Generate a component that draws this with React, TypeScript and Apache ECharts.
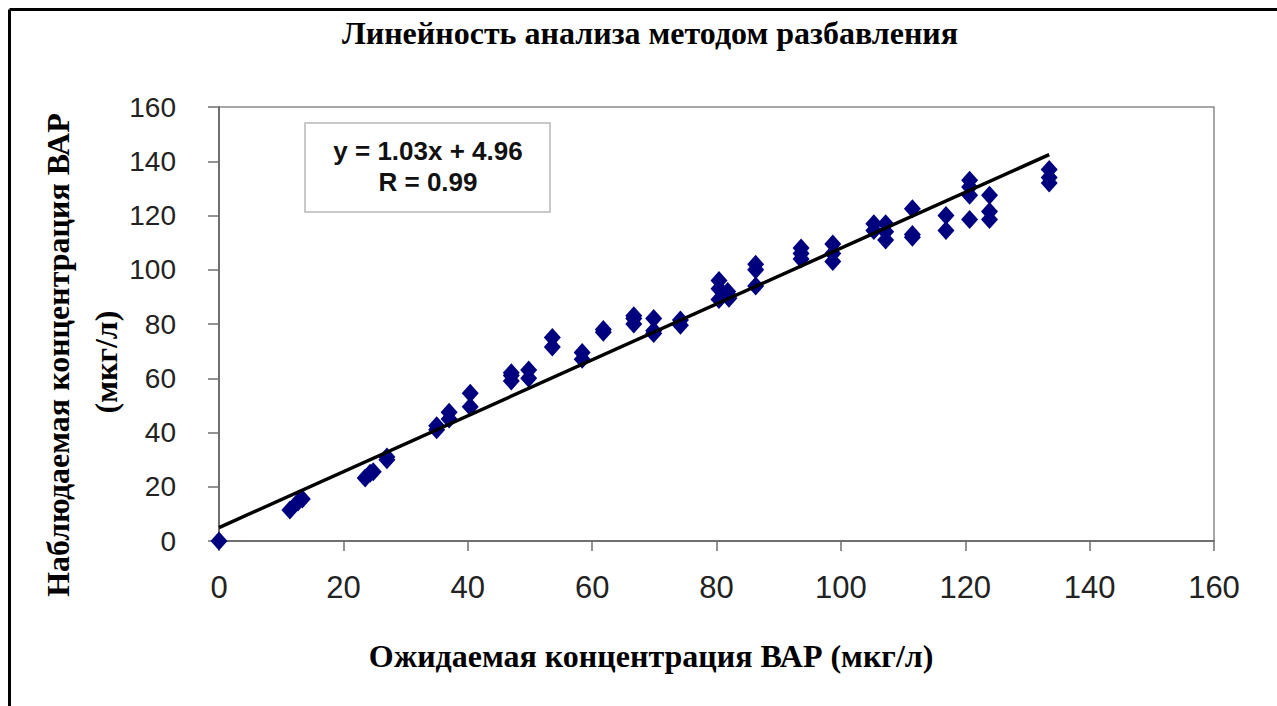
import React, { useEffect, useRef } from "react";
import * as echarts from "echarts";

// Expected (x) and observed (y) concentrations, µg/L
const expectedX = [
  0,
  11.4, 12.7, 13.4,
  23.5, 24.3, 24.8,
  27, 27,
  35, 35, 37, 37,
  40.4, 40.4,
  47, 47, 47,
  49.8, 49.8,
  53.6, 53.6,
  58.4, 58.4,
  61.8, 61.8,
  66.7, 66.7, 66.7,
  69.9, 69.9, 69.9,
  74.2, 74.2,
  80.4, 80.4, 80.4, 81.8, 82, 82,
  86.3, 86.3, 86.3,
  93.6, 93.6, 93.6,
  98.7, 98.7, 98.7,
  105.3, 105.3, 107.2, 107.2, 107.2,
  111.5, 111.5, 111.5,
  116.9, 116.9,
  120.7, 120.7, 120.7, 120.7,
  123.9, 123.9, 123.9,
  133.5, 133.5, 133.5,
];
const observedY = [
  0,
  11.4, 14.4, 15.5,
  23.2, 25, 25.5,
  30, 31,
  41, 42.5, 45, 47.5,
  49.5, 54.5,
  59, 61, 62,
  60, 63,
  71.5, 75,
  67, 69.5,
  77, 78,
  80, 82, 83,
  82, 76.5, 77.5,
  79.5, 81.5,
  96, 93, 89, 92, 90.5, 89.5,
  102, 100, 94,
  108, 106, 104,
  109.5, 106, 103,
  117, 114.5, 117, 114, 111,
  122.5, 113, 112,
  120, 114.5,
  133, 130.5, 127.5, 118.5,
  127.5, 121.5, 118.5,
  137, 134, 132,
];
// Trend line end points (y = 1.03x + 4.96)
const trendX = [0, 133.5];
const trendY = [4.96, 142.47];

const titleText = "Линейность анализа методом разбавления";
const xTitle = "Ожидаемая концентрация ВАР (мкг/л)";
const yTitle1 = "Наблюдаемая концентрация ВАР";
const yTitle2 = "(мкг/л)";
const eqLine1 = "y = 1.03x + 4.96";
const eqLine2 = "R = 0.99";

export default function App() {
  const ref = useRef<HTMLDivElement>(null);
  useEffect(() => {
    const chart = echarts.init(ref.current!, null, { renderer: "svg" });
    const serif = "'Liberation Serif', 'Times New Roman', serif";
    const sans = "'Liberation Sans', Arial, sans-serif";
    chart.setOption({
      animation: false,
      backgroundColor: "#ffffff",
      grid: {
        left: 219,
        top: 107,
        right: 63,
        bottom: 165,
        show: true,
        borderColor: "#8a8a8a",
        borderWidth: 1.5,
        backgroundColor: "#ffffff",
      },
      xAxis: {
        type: "value",
        min: 0,
        max: 160,
        interval: 20,
        splitLine: { show: false },
        axisLine: { show: true, onZero: false, lineStyle: { color: "#6f6f6f", width: 2 } },
        axisTick: { show: true, inside: false, length: 10, lineStyle: { color: "#6f6f6f", width: 1.5 } },
        axisLabel: { fontSize: 31, color: "#222", fontFamily: sans, margin: 31 },
      },
      yAxis: {
        type: "value",
        min: 0,
        max: 160,
        interval: 20,
        splitLine: { show: false },
        axisLine: { show: true, onZero: false, lineStyle: { color: "#6f6f6f", width: 2 } },
        axisTick: { show: true, inside: false, length: 11, lineStyle: { color: "#6f6f6f", width: 1.5 } },
        axisLabel: { fontSize: 28, color: "#222", fontFamily: sans, margin: 43 },
      },
      series: [
        {
          type: "scatter",
          symbol: "diamond",
          symbolSize: [17, 19],
          itemStyle: { color: "#00007f", opacity: 1 },
          data: expectedX.map((x, i) => [x, observedY[i]]),
          z: 2,
        },
        {
          type: "line",
          symbol: "none",
          lineStyle: { color: "#000000", width: 3.5 },
          data: trendX.map((x, i) => [x, trendY[i]]),
          z: 3,
        },
      ],
      graphic: [
        { type: "line", shape: { x1: 9.5, y1: 9.5, x2: 1400, y2: 9.5 }, style: { stroke: "#000", lineWidth: 3 } },
        { type: "line", shape: { x1: 9.5, y1: 9.5, x2: 9.5, y2: 800 }, style: { stroke: "#000", lineWidth: 3 } },
        {
          type: "text",
          x: 650,
          y: 33,
          style: { text: titleText, font: `bold 32px ${serif}`, fill: "#000", textAlign: "center", textVerticalAlign: "middle" },
        },
        {
          type: "text",
          x: 651,
          y: 656,
          style: { text: xTitle, font: `bold 32px ${serif}`, fill: "#000", textAlign: "center", textVerticalAlign: "middle" },
        },
        {
          type: "text",
          x: 58,
          y: 355,
          rotation: Math.PI / 2,
          style: { text: yTitle1, font: `bold 32px ${serif}`, fill: "#000", textAlign: "center", textVerticalAlign: "middle" },
        },
        {
          type: "text",
          x: 106,
          y: 362,
          rotation: Math.PI / 2,
          style: { text: yTitle2, font: `bold 32px ${serif}`, fill: "#000", textAlign: "center", textVerticalAlign: "middle" },
        },
        {
          type: "rect",
          shape: { x: 305, y: 123, width: 245, height: 89 },
          style: { fill: "#fff", stroke: "#b8b8b8", lineWidth: 1.5 },
          z: 10,
        },
        {
          type: "text",
          x: 428,
          y: 151,
          z: 11,
          style: { text: eqLine1, font: `bold 26px ${sans}`, fill: "#111", textAlign: "center", textVerticalAlign: "middle" },
        },
        {
          type: "text",
          x: 428,
          y: 182,
          z: 11,
          style: { text: eqLine2, font: `bold 26px ${sans}`, fill: "#111", textAlign: "center", textVerticalAlign: "middle" },
        },
      ],
    });
    return () => chart.dispose();
  }, []);
  return (
    <div
      ref={ref}
      style={{ position: "fixed", left: 0, top: 0, width: 1277, height: 706, background: "#fff" }}
    />
  );
}
